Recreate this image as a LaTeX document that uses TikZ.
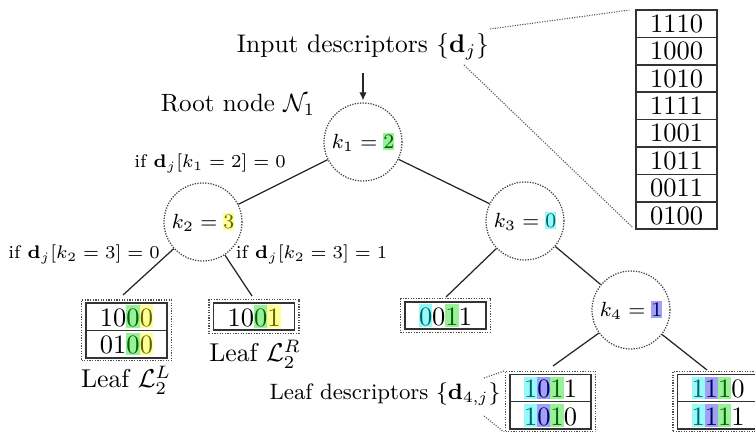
\RequirePackage{fix-cm}
\documentclass[tikz,border=0pt]{standalone}
\usetikzlibrary{fit,arrows.meta}
\definecolor{greenbg}{RGB}{153,240,153}
\definecolor{greenfg}{RGB}{0,100,0}
\definecolor{yellowbg}{RGB}{255,255,150}
\definecolor{yellowfg}{RGB}{100,100,0}
\definecolor{cyanbg}{RGB}{150,250,250}
\definecolor{cyanfg}{RGB}{0,100,100}
\definecolor{bluebg}{RGB}{160,160,245}
\definecolor{bluefg}{RGB}{0,0,100}
\newcommand\hlt[2]{{\setlength{\fboxsep}{0pt}\colorbox{#1bg}{\rule[-0.06em]{0pt}{0.86em}\textcolor{#1fg}{#2}}}}
\tikzset{
  cnode/.style={circle, draw=black!75, dash pattern=on 0.5pt off 0.55pt, line width=0.5pt,
    minimum size=78*0.4pt, inner sep=0pt, font=\fontsize{8.2}{10}\selectfont},
  dbox/.style={draw=black!80, line width=0.6pt, minimum width=81*0.4pt,
    minimum height=27.4*0.4pt, inner sep=0pt, font=\fontsize{10.6}{12}\selectfont},
  leafbox/.style={draw=black!70, dash pattern=on 0.5pt off 0.55pt, line width=0.5pt,
    inner xsep=1.5pt, inner ysep=0.9pt},
  edgeline/.style={draw=black!85, line width=0.5pt},
  zoomline/.style={draw=black!65, dash pattern=on 0.45pt off 0.55pt, line width=0.45pt},
  lbl/.style={anchor=base, inner sep=0pt},
  condlbl/.style={lbl, font=\fontsize{7.3}{9}\selectfont},
}
\begin{document}
\begin{tikzpicture}[x=0.4pt, y=-0.4pt]
\useasboundingbox (0,0) rectangle (755,432);

% input label and column of descriptors
\node[lbl, font=\fontsize{10.2}{12}\selectfont] (inp) at (363,52.5) {Input descriptors $\{\mathbf{d}_j\}$};
\foreach \t [count=\i] in {1110,1000,1010,1111,1001,1011,0011,0100}
  \node[dbox] (c\i) at (676.5,{23.7+27.4*(\i-1)}) {\t};
\coordinate (z1) at (490,29);
\coordinate (z2) at (464,65);
\draw[zoomline, shorten >=2.4pt] (z1) -- (c1.north west);
\draw[zoomline, shorten >=1.5pt] (z2) -- (c8.south west);

% tree nodes
\node[cnode] (root) at (363,142) {$k_1 = \hlt{green}{2}$};
\node[cnode] (k2) at (203,222) {$k_2 = \hlt{yellow}{3}$};
\node[cnode] (k3) at (525,221) {$k_3 = \hlt{cyan}{0}$};
\node[cnode] (k4) at (631,310) {$k_4 = \hlt{blue}{1}$};

\draw[edgeline, -{Latex[length=3.2pt,width=3pt]}, shorten <=5.2pt, shorten >=0.8pt] (inp) -- (root);

\node[lbl, font=\fontsize{10}{12}\selectfont] (rootlbl) at (238,112) {Root node $\mathcal{N}_1$};
\node[condlbl] (c1lbl) at (210,168) {if $\mathbf{d}_j[k_1 = 2] = 0$};
\node[condlbl] (c2lbl) at (84,259) {if $\mathbf{d}_j[k_2 = 3] = 0$};
\node[condlbl] (c3lbl) at (311.5,259) {if $\mathbf{d}_j[k_2 = 3] = 1$};

% leaves
\node[dbox] (lL1) at (126.5,316.7) {10\hlt{green}{0}\hlt{yellow}{0}};
\node[dbox] (lL2) at (126.5,344.1) {01\hlt{green}{0}\hlt{yellow}{0}};
\node[leafbox, fit=(lL1)(lL2)] (lL) {};
\node[dbox] (lR1) at (254,316.5) {10\hlt{green}{0}\hlt{yellow}{1}};
\node[leafbox, fit=(lR1)] (lR) {};
\node[dbox] (l31) at (445.5,315.5) {\hlt{cyan}{0}0\hlt{green}{1}1};
\node[leafbox, fit=(l31)] (l3) {};
\node[dbox] (l41) at (550.5,388) {\hlt{cyan}{1}\hlt{blue}{0}\hlt{green}{1}1};
\node[dbox] (l42) at (550.5,415.4) {\hlt{cyan}{1}\hlt{blue}{0}\hlt{green}{1}0};
\node[leafbox, fit=(l41)(l42)] (l4) {};
\node[dbox] (l51) at (718,388) {\hlt{cyan}{1}\hlt{blue}{1}\hlt{green}{1}0};
\node[dbox] (l52) at (718,415.4) {\hlt{cyan}{1}\hlt{blue}{1}\hlt{green}{1}1};
\node[leafbox, fit=(l51)(l52)] (l5) {};

\node[lbl, font=\fontsize{10.3}{12}\selectfont] (leafL) at (126,388) {Leaf $\mathcal{L}_2^L$};
\node[lbl, font=\fontsize{10.3}{12}\selectfont] (leafR) at (255,361.7) {Leaf $\mathcal{L}_2^R$};
\node[lbl, font=\fontsize{8.9}{11}\selectfont] (leafd) at (385,400) {Leaf descriptors $\{\mathbf{d}_{4,j}\}$};
\coordinate (ld1) at (484,378);
\coordinate (ld2) at (484,416);
\draw[zoomline] (ld1) -- (l4.north west);
\draw[zoomline] (ld2) -- (l4.south west);

% edges
\coordinate (eL) at (123,295);
\coordinate (eR) at (252,296);
\coordinate (e3) at (446,297);
\coordinate (e4) at (553,366);
\coordinate (e5) at (707,370);
\draw[edgeline] (root) -- (k2);
\draw[edgeline] (root) -- (k3);
\draw[edgeline] (k3) -- (k4);
\draw[edgeline] (k2) -- (eL);
\draw[edgeline] (k2) -- (eR);
\draw[edgeline] (k3) -- (e3);
\draw[edgeline] (k4) -- (e4);
\draw[edgeline] (k4) -- (e5);
\end{tikzpicture}
\end{document}
